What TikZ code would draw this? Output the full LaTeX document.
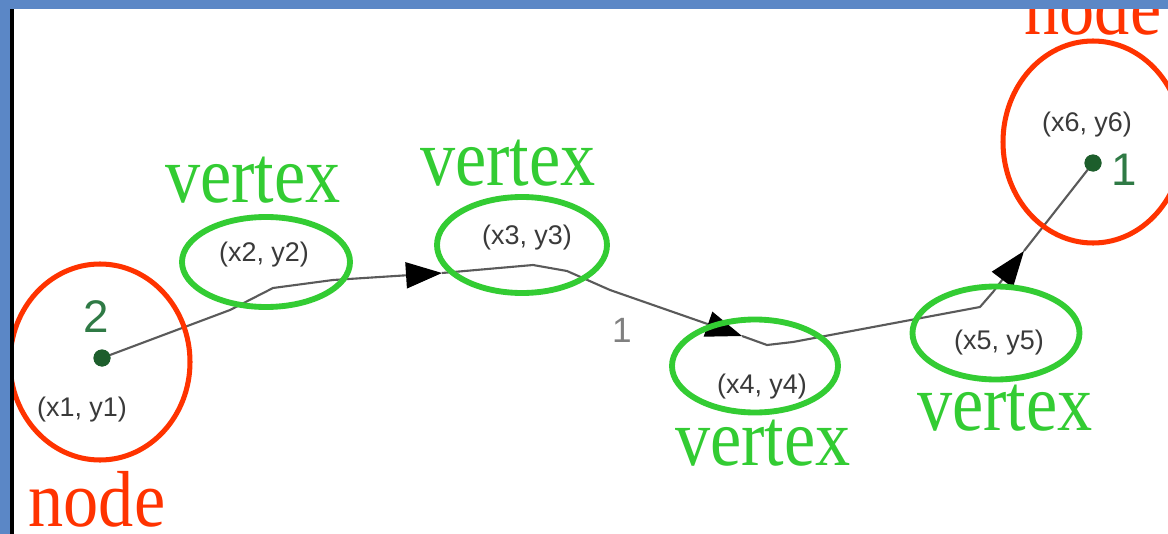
\documentclass[tikz,border=0pt]{standalone}
\usepackage{graphicx}
\usepackage{fontspec}
\setmainfont{Liberation Serif}
\newfontfamily\labelsans{Liberation Sans}
\usetikzlibrary{shapes.geometric,arrows.meta}

\definecolor{framebar}{HTML}{5B87C6}
\definecolor{nodered}{HTML}{FF3300}
\definecolor{vertexgreen}{HTML}{33CC33}
\definecolor{dotgreen}{HTML}{1D5E2C}
\definecolor{numgreen}{HTML}{2F7A45}
\definecolor{coordgray}{HTML}{3A3A3A}
\definecolor{edgegray}{HTML}{5A5A5A}

\tikzset{
  ring/.style={draw=nodered, line width=4.3pt, ellipse, inner sep=0pt},
  vring/.style={draw=vertexgreen, line width=5pt, ellipse, inner sep=0pt},
  bigword/.style={font=\fontsize{60}{70}\selectfont, inner sep=0pt, anchor=base},
  coordtext/.style={font=\labelsans\fontsize{23}{25}\selectfont, text=coordgray, inner sep=0pt},
  numtext/.style={font=\labelsans\fontsize{39}{42}\selectfont, text=numgreen, inner sep=0pt},
  weighttext/.style={font=\labelsans\fontsize{30}{32}\selectfont, text=gray, inner sep=0pt},
  dot/.style={circle, fill=dotgreen, minimum size=17*0.03cm, inner sep=0pt},
  edge/.style={draw=edgegray, line width=1.8pt, line join=round},
  tipped/.style={edge, -{Triangle[length=36*0.03cm, width=26*0.03cm, color=black, fill=black]}}
}

\begin{document}
\begin{tikzpicture}[x=0.03cm, y=-0.03cm]
\useasboundingbox (0,0) rectangle (1168,534);
\clip (0,0) rectangle (1168,534);
\fill[white] (0,0) rectangle (1168,534);

% end nodes of the route
\node[dot] (n2) at (102,358) {};
\node[dot] (n1) at (1093,163) {};

% bends of the route
\coordinate (p1) at (230,310);
\coordinate (p2) at (273,288);
\coordinate (p3) at (333,280);
\coordinate (a1) at (442,273);
\coordinate (p4) at (533,265);
\coordinate (p5) at (567,271);
\coordinate (p6) at (610,290);
\coordinate (a2) at (742,336);
\coordinate (p7) at (767,345);
\coordinate (p8) at (793,342);
\coordinate (p9) at (980,307);
\coordinate (p10) at (993,292);
\coordinate (a3) at (1024,251);

% route segments, each ending in a direction arrow
\draw[tipped] (n2.center) -- (p1) -- (p2) -- (p3) -- (a1);
\draw[tipped] (a1) -- (p4) -- (p5) -- (p6) -- (a2);
\draw[tipped] (a2) -- (p7) -- (p8) -- (p9) -- (p10) -- (a3);
\draw[edge] (a3) -- (n1.center);
\node[dot] at (n2) {};
\node[dot] at (n1) {};

% node labels
\node[numtext] (num2) at (96,317) {2};
\node[numtext] (num1) at (1124,170) {1};
\node[weighttext] (w1) at (622,330) {1};

% coordinate labels
\node[coordtext] (c1) at (82,410) {(x1, y1)};
\node[coordtext] (c2) at (264,255) {(x2, y2)};
\node[coordtext] (c3) at (527,238) {(x3, y3)};
\node[coordtext] (c4) at (762,387) {(x4, y4)};
\node[coordtext] (c5) at (999,343) {(x5, y5)};
\node[coordtext] (c6) at (1087,125) {(x6, y6)};

% red rings around the end nodes
\node[ring, minimum width=180*0.03cm, minimum height=196*0.03cm] (r2) at (100,362) {};
\node[ring, minimum width=180*0.03cm, minimum height=202*0.03cm] (r1) at (1093,142) {};

% green rings around the vertices
\node[vring, minimum width=168*0.03cm, minimum height=90*0.03cm] (e2) at (266,262) {};
\node[vring, minimum width=170*0.03cm, minimum height=96*0.03cm] (e3) at (522,245) {};
\node[vring, minimum width=166*0.03cm, minimum height=93*0.03cm] (e4) at (755,366) {};
\node[vring, minimum width=167*0.03cm, minimum height=93*0.03cm] (e5) at (996,333) {};

% captions
\node[bigword, text=vertexgreen] (t2) at (253,202) {\scalebox{1}[1.15]{vertex}};
\node[bigword, text=vertexgreen] (t3) at (508,185) {\scalebox{1}[1.15]{vertex}};
\node[bigword, text=vertexgreen] (t4) at (763,465) {\scalebox{1}[1.15]{vertex}};
\node[bigword, text=vertexgreen] (t5) at (1005,430) {\scalebox{1}[1.15]{vertex}};
\node[bigword, text=nodered] (tn2) at (97,526) {\scalebox{1}[1.13]{node}};
\node[bigword, text=nodered] (tn1) at (1093,35) {\scalebox{1}[1.13]{node}};

% slide frame
\fill[framebar] (0,0) rectangle (1168,9);
\fill[framebar] (0,0) rectangle (10,534);
\fill[black] (10,9) rectangle (14,534);
\end{tikzpicture}
\end{document}
